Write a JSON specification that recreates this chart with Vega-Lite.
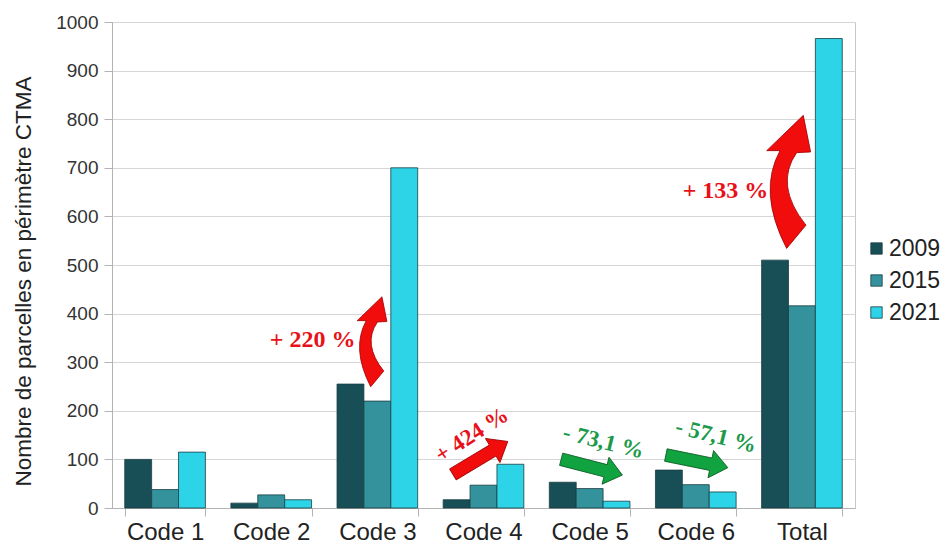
{
  "$schema": "https://vega.github.io/schema/vega-lite/v6.json",
  "width": 743,
  "height": 486,
  "autosize": {"type": "none"},
  "padding": {"left": 112, "top": 22, "right": 94, "bottom": 38},
  "background": "white",
  "config": {
    "font": "Liberation Sans",
    "view": {"stroke": "#c8c8c8"}
  },
  "datasets": {
    "barres": [
      {"code": "Code 1", "annee": "2009", "valeur": 100},
      {"code": "Code 1", "annee": "2015", "valeur": 38},
      {"code": "Code 1", "annee": "2021", "valeur": 115},
      {"code": "Code 2", "annee": "2009", "valeur": 10},
      {"code": "Code 2", "annee": "2015", "valeur": 27},
      {"code": "Code 2", "annee": "2021", "valeur": 17},
      {"code": "Code 3", "annee": "2009", "valeur": 255},
      {"code": "Code 3", "annee": "2015", "valeur": 220},
      {"code": "Code 3", "annee": "2021", "valeur": 700},
      {"code": "Code 4", "annee": "2009", "valeur": 17},
      {"code": "Code 4", "annee": "2015", "valeur": 47},
      {"code": "Code 4", "annee": "2021", "valeur": 90},
      {"code": "Code 5", "annee": "2009", "valeur": 53},
      {"code": "Code 5", "annee": "2015", "valeur": 40},
      {"code": "Code 5", "annee": "2021", "valeur": 14},
      {"code": "Code 6", "annee": "2009", "valeur": 78},
      {"code": "Code 6", "annee": "2015", "valeur": 48},
      {"code": "Code 6", "annee": "2021", "valeur": 33},
      {"code": "Total", "annee": "2009", "valeur": 510},
      {"code": "Total", "annee": "2015", "valeur": 416},
      {"code": "Total", "annee": "2021", "valeur": 966}
    ],
    "notes": [
      {"id": "c3", "texte": "+ 220 %", "xpos": 1.89, "valeur": 346},
      {"id": "tot", "texte": "+ 133 %", "xpos": 5.78, "valeur": 652},
      {"id": "c4", "texte": "+ 424 %", "xpos": 3.39, "valeur": 150},
      {"id": "c5", "texte": "- 73,1 %", "xpos": 4.63, "valeur": 136},
      {"id": "c6", "texte": "- 57,1 %", "xpos": 5.69, "valeur": 148}
    ],
    "fleches": [
      {"id": "c3", "xpos": 2.45, "valeur": 342},
      {"id": "tot", "xpos": 6.375, "valeur": 671},
      {"id": "c4", "xpos": 3.47, "valeur": 103},
      {"id": "c5", "xpos": 4.52, "valeur": 84},
      {"id": "c6", "xpos": 5.51, "valeur": 96}
    ]
  },
  "encoding": {
    "y": {
      "field": "valeur", "type": "quantitative",
      "scale": {"domain": [0, 1000], "nice": false},
      "axis": {
        "title": "Nombre de parcelles en périmètre CTMA",
        "values": [0, 100, 200, 300, 400, 500, 600, 700, 800, 900, 1000],
        "format": "d",
        "grid": true, "gridColor": "#d6d6d6",
        "domainColor": "#b3b3b3", "tickColor": "#b3b3b3", "tickSize": 8,
        "labelFontSize": 19, "labelColor": "#333333", "labelPadding": 6,
        "titleFontSize": 22.5, "titleFontWeight": "normal", "titleColor": "#222222",
        "titleX": -89, "titleY": 259, "titleAngle": -90,
        "titleAlign": "center", "titleBaseline": "middle"
      }
    }
  },
  "layer": [
    {
      "data": {"name": "barres"},
      "mark": {"type": "bar", "stroke": "#1a3d42", "strokeWidth": 0.8},
      "encoding": {
        "x": {
          "field": "code", "type": "nominal", "sort": null,
          "scale": {"paddingInner": 0.24, "paddingOuter": 0.12},
          "axis": {
            "title": null, "labelAngle": 0, "labelFontSize": 24, "labelColor": "#222222",
            "tickBand": "extent", "tickSize": 8, "tickColor": "#b3b3b3",
            "domainColor": "#b3b3b3", "labelPadding": 4, "grid": false
          }
        },
        "xOffset": {"field": "annee", "type": "nominal"},
        "color": {
          "field": "annee", "type": "nominal",
          "scale": {"range": ["#184f57", "#33929b", "#2dd3e7"]},
          "legend": {
            "title": null, "orient": "none", "legendX": 753, "legendY": 215,
            "symbolType": "square", "symbolSize": 130,
            "symbolStrokeColor": "#1a3d42", "symbolStrokeWidth": 0.8,
            "labelFontSize": 23, "labelColor": "#222222",
            "rowPadding": 8, "labelOffset": 1, "padding": 0
          }
        }
      }
    },
    {
      "data": {"name": "notes"},
      "transform": [{"filter": "datum.id === 'c3' || datum.id === 'tot'"}],
      "mark": {"type": "text", "font": "Liberation Serif", "fontWeight": "bold", "fontSize": 24, "color": "#e8111a", "align": "center", "baseline": "middle"},
      "encoding": {
        "x": {"field": "xpos", "type": "quantitative", "scale": {"domain": [0, 7], "nice": false, "zero": false}, "axis": null},
        "text": {"field": "texte"}
      }
    },
    {
      "data": {"name": "notes"},
      "transform": [{"filter": "datum.id === 'c4'"}],
      "mark": {"type": "text", "font": "Liberation Serif", "fontWeight": "bold", "fontSize": 23, "color": "#e8111a", "align": "center", "baseline": "middle", "angle": -33},
      "encoding": {
        "x": {"field": "xpos", "type": "quantitative", "scale": {"domain": [0, 7], "nice": false, "zero": false}, "axis": null},
        "text": {"field": "texte"}
      }
    },
    {
      "data": {"name": "notes"},
      "transform": [{"filter": "datum.id === 'c5' || datum.id === 'c6'"}],
      "mark": {"type": "text", "font": "Liberation Serif", "fontWeight": "bold", "fontSize": 23, "color": "#1b9a4a", "align": "center", "baseline": "middle", "angle": 14},
      "encoding": {
        "x": {"field": "xpos", "type": "quantitative", "scale": {"domain": [0, 7], "nice": false, "zero": false}, "axis": null},
        "text": {"field": "texte"}
      }
    },
    {
      "data": {"name": "fleches"},
      "transform": [{"filter": "datum.id === 'c3'"}],
      "mark": {"type": "point", "filled": true, "opacity": 1, "color": "#f20d0d", "stroke": "#9b0000", "strokeWidth": 0.8, "size": 8100,
        "shape": "M0.22,-1L0.33,-0.45L0.12,-0.44Q-0.22,0.05 0.26,0.65L-0.03,1Q-0.47,0.15 -0.13,-0.47L-0.33,-0.47Z"},
      "encoding": {
        "x": {"field": "xpos", "type": "quantitative", "scale": {"domain": [0, 7], "nice": false, "zero": false}, "axis": null}
      }
    },
    {
      "data": {"name": "fleches"},
      "transform": [{"filter": "datum.id === 'tot'"}],
      "mark": {"type": "point", "filled": true, "opacity": 1, "color": "#f20d0d", "stroke": "#9b0000", "strokeWidth": 0.8, "size": 17700,
        "shape": "M0.22,-1L0.33,-0.45L0.12,-0.44Q-0.22,0.05 0.26,0.65L-0.03,1Q-0.47,0.15 -0.13,-0.47L-0.33,-0.47Z"},
      "encoding": {
        "x": {"field": "xpos", "type": "quantitative", "scale": {"domain": [0, 7], "nice": false, "zero": false}, "axis": null}
      }
    },
    {
      "data": {"name": "fleches"},
      "transform": [{"filter": "datum.id === 'c4'"}],
      "mark": {"type": "point", "filled": true, "opacity": 1, "color": "#f20d0d", "stroke": "#9b0000", "strokeWidth": 0.8, "size": 4096, "angle": -31,
        "shape": "M-1,-0.2L0.45,-0.2L0.45,-0.44L1,0L0.45,0.44L0.45,0.2L-1,0.2Z"},
      "encoding": {
        "x": {"field": "xpos", "type": "quantitative", "scale": {"domain": [0, 7], "nice": false, "zero": false}, "axis": null}
      }
    },
    {
      "data": {"name": "fleches"},
      "transform": [{"filter": "datum.id === 'c5'"}],
      "mark": {"type": "point", "filled": true, "opacity": 1, "color": "#10a33f", "stroke": "#0a5a22", "strokeWidth": 0.8, "size": 4000, "angle": 14.5,
        "shape": "M-1,-0.2L0.45,-0.2L0.45,-0.44L1,0L0.45,0.44L0.45,0.2L-1,0.2Z"},
      "encoding": {
        "x": {"field": "xpos", "type": "quantitative", "scale": {"domain": [0, 7], "nice": false, "zero": false}, "axis": null}
      }
    },
    {
      "data": {"name": "fleches"},
      "transform": [{"filter": "datum.id === 'c6'"}],
      "mark": {"type": "point", "filled": true, "opacity": 1, "color": "#10a33f", "stroke": "#0a5a22", "strokeWidth": 0.8, "size": 4000, "angle": 11.5,
        "shape": "M-1,-0.2L0.45,-0.2L0.45,-0.44L1,0L0.45,0.44L0.45,0.2L-1,0.2Z"},
      "encoding": {
        "x": {"field": "xpos", "type": "quantitative", "scale": {"domain": [0, 7], "nice": false, "zero": false}, "axis": null}
      }
    }
  ],
  "resolve": {"scale": {"x": "independent"}}
}
